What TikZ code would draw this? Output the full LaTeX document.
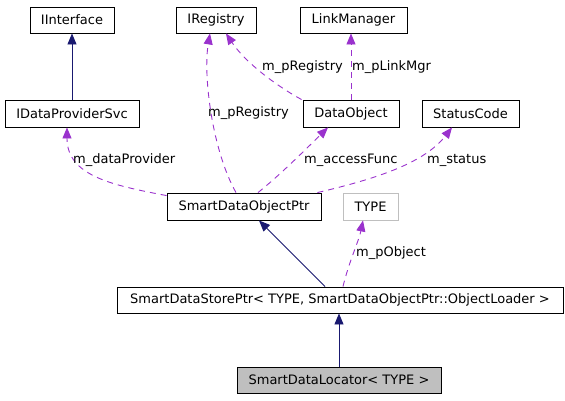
\documentclass[tikz,border=0pt]{standalone}
\usepackage{fontspec}
\setmainfont{DejaVu Sans}
\usetikzlibrary{arrows.meta}
\definecolor{edgeblue}{HTML}{191970}
\definecolor{edgepurple}{HTML}{9A32CD}
\definecolor{boxgray}{HTML}{BFBFBF}
\begin{document}
\begin{tikzpicture}[x=1pt,y=-1pt,
  txt/.style={font=\fontsize{13}{15}\selectfont},
  box/.style={txt,draw=black,line width=0.9pt,fill=white,inner sep=0pt,minimum height=26pt},
  inherit/.style={draw=edgeblue,line width=0.9pt,-{Triangle[length=11pt,width=9pt]},color=edgeblue},
  usage/.style={draw=edgepurple,line width=0.9pt,dash pattern=on 6pt off 5pt,-{Triangle[length=11pt,width=9pt]},color=edgepurple},
  lbl/.style={txt,inner sep=0pt,anchor=west}]
\useasboundingbox (0,0) rectangle (565,400);
% nodes
\node[box,minimum width=84pt] (iint) at (72,20) {IInterface};
\node[box,minimum width=80pt] (ireg) at (216,20) {IRegistry};
\node[box,minimum width=107pt] (lmgr) at (353.5,20) {LinkManager};
\node[box,minimum width=134pt,minimum height=27pt] (ids) at (72,113.5) {IDataProviderSvc};
\node[box,minimum width=96pt,minimum height=27pt] (dobj) at (351,113.5) {DataObject};
\node[box,minimum width=97pt,minimum height=27pt] (sc) at (470.5,113.5) {StatusCode};
\node[box,minimum width=154pt,minimum height=27pt] (sdop) at (244,206.5) {SmartDataObjectPtr};
\node[box,draw=boxgray,minimum width=55pt,minimum height=27pt] (type) at (370.5,206.5) {TYPE};
\node[box,minimum width=446pt] (sdsp) at (340,300) {SmartDataStorePtr< TYPE, SmartDataObjectPtr::ObjectLoader >};
\node[box,fill=boxgray,minimum width=204pt] (sdl) at (339,380) {SmartDataLocator< TYPE >};
% inheritance
\draw[inherit] (ids.north) -- (iint.south);
\draw[inherit] ([xshift=-15pt]sdsp.north) -- ([xshift=15pt]sdop.south);
\draw[inherit] (sdl.north) -- (sdl.north |- sdsp.south);
% usage
\draw[usage] ([xshift=3pt]sdsp.north) .. controls +(6,-25) and +(-4,20) .. ([xshift=-7.5pt]type.south);
\draw[usage] ([yshift=-3pt]sdop.north west) .. controls (110,185) and (67,175) .. ([xshift=-5pt]ids.south);
\draw[usage] ([xshift=-8pt]sdop.north) .. controls (212,150) and (203,75) .. ([xshift=-6pt]ireg.south);
\draw[usage] ([xshift=-1pt]dobj.north west) .. controls (275,85) and (245,62) .. ([xshift=10pt]ireg.south);
\draw[usage] (dobj.north) -- (dobj.north |- lmgr.south);
\draw[usage] ([xshift=14pt]sdop.north) .. controls (280,175) and (305,150) .. ([xshift=-23pt]dobj.south);
\draw[usage] ([xshift=-4pt]sdop.north east) .. controls (380,178) and (425,162) .. ([xshift=-18.5pt]sc.south);
% labels
\node[lbl] (l1) at (73,160) {m\_dataProvider};
\node[lbl] (l2) at (208,113) {m\_pRegistry};
\node[lbl] (l3) at (262,67) {m\_pRegistry};
\node[lbl] (l4) at (352,67) {m\_pLinkMgr};
\node[lbl] (l5) at (304,160) {m\_accessFunc};
\node[lbl] (l6) at (427,160) {m\_status};
\node[lbl] (l7) at (356,253) {m\_pObject};
\end{tikzpicture}
\end{document}
